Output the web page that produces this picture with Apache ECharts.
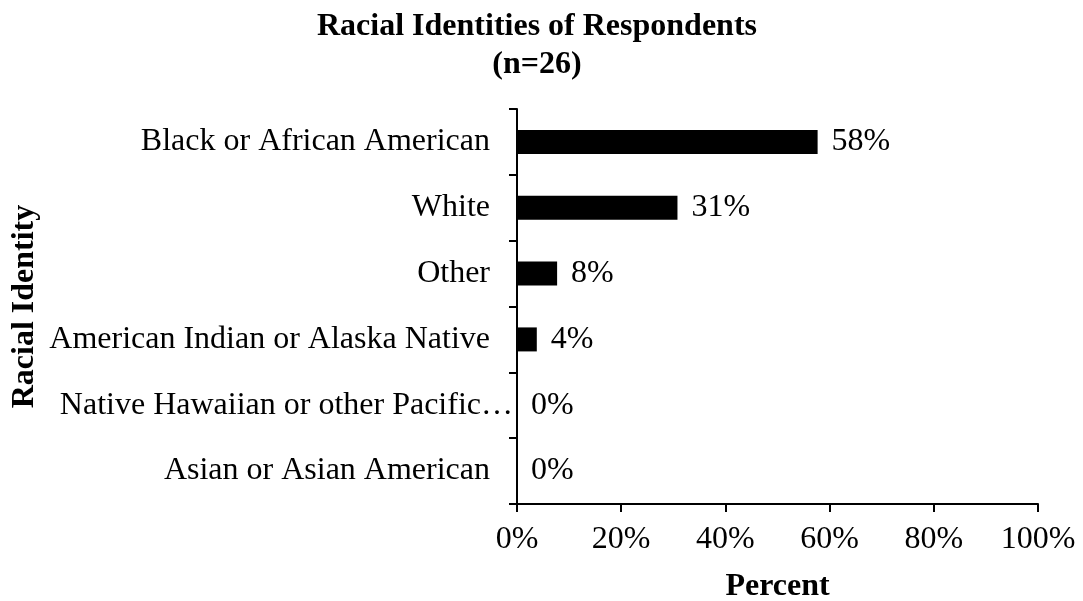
<!DOCTYPE html>
<html><head><meta charset="utf-8">
<script src="https://cdn.jsdelivr.net/npm/echarts@6/dist/echarts.min.js"></script>
<style>html,body{margin:0;padding:0;background:#fff}#c{width:1083px;height:601px}</style>
</head><body><div id="c"></div>
<script>
const categories = ["Asian or Asian American","Native Hawaiian or other Pacific Islander","American Indian or Alaska Native","Other","White","Black or African American"];
const percents = [0, 0, 3.8, 7.7, 30.8, 57.7];
const xTicks = [0, 20, 40, 60, 80, 100];
const titleText = "Racial Identities of Respondents\n(n=26)";
const F = "'Liberation Serif','Times New Roman',serif";
const LABEL_FONT = "32px 'Liberation Serif'";
const LABEL_MAX = 456;
const ctx = document.createElement('canvas').getContext('2d');
ctx.font = LABEL_FONT;
function truncate(v){
  if (ctx.measureText(v).width <= LABEL_MAX) return v;
  let t = v;
  while (t.length && ctx.measureText(t + '…').width > LABEL_MAX) t = t.slice(0, -1);
  return t.replace(/\s+$/,'') + '…';
}
const chart = echarts.init(document.getElementById('c'));
chart.setOption({
  animation:false,
  title:{text:titleText,left:532,textAlign:'center',top:3,textStyle:{fontFamily:F,fontSize:32,fontWeight:'bold',color:'#000',lineHeight:38}},
  grid:{left:517,right:45,top:109,bottom:97,containLabel:false,outerBoundsMode:'none'},
  xAxis:{type:'value',min:0,max:100,interval:20,
    name:'Percent',nameLocation:'middle',nameGap:67,
    nameTextStyle:{fontFamily:F,fontSize:32,fontWeight:'bold',color:'#000'},
    axisLine:{show:true,lineStyle:{color:'#000',width:2}},
    axisTick:{show:true,length:8,lineStyle:{color:'#000',width:2}},
    axisLabel:{fontFamily:F,fontSize:32,color:'#000',margin:20,formatter:v=>xTicks.includes(v)?v+'%':''},
    splitLine:{show:false}},
  yAxis:{type:'category',data:categories,
    name:'Racial Identity',nameLocation:'middle',nameGap:476,nameRotate:90,
    nameTextStyle:{fontFamily:F,fontSize:32,fontWeight:'bold',color:'#000'},
    axisLine:{show:true,lineStyle:{color:'#000',width:2}},
    axisTick:{show:true,length:8,lineStyle:{color:'#000',width:2}},
    axisLabel:{fontFamily:F,fontSize:32,color:'#000',margin:4,
      formatter:function(v){
        const t = truncate(v);
        return t !== v ? '{b|' + t + '}' : '{a|' + v + '}';
      },
      rich:{a:{fontFamily:F,fontSize:32,color:'#000',padding:[0,23,0,0]},b:{fontFamily:F,fontSize:32,color:'#000',padding:[0,0,0,0]}}}},
  series:[{type:'bar',data:percents,barWidth:24,itemStyle:{color:'#000'},
    label:{show:true,position:'right',distance:14,fontFamily:F,fontSize:32,color:'#000',formatter:p=>Math.round(p.value)+'%'}}]
});
</script></body></html>
